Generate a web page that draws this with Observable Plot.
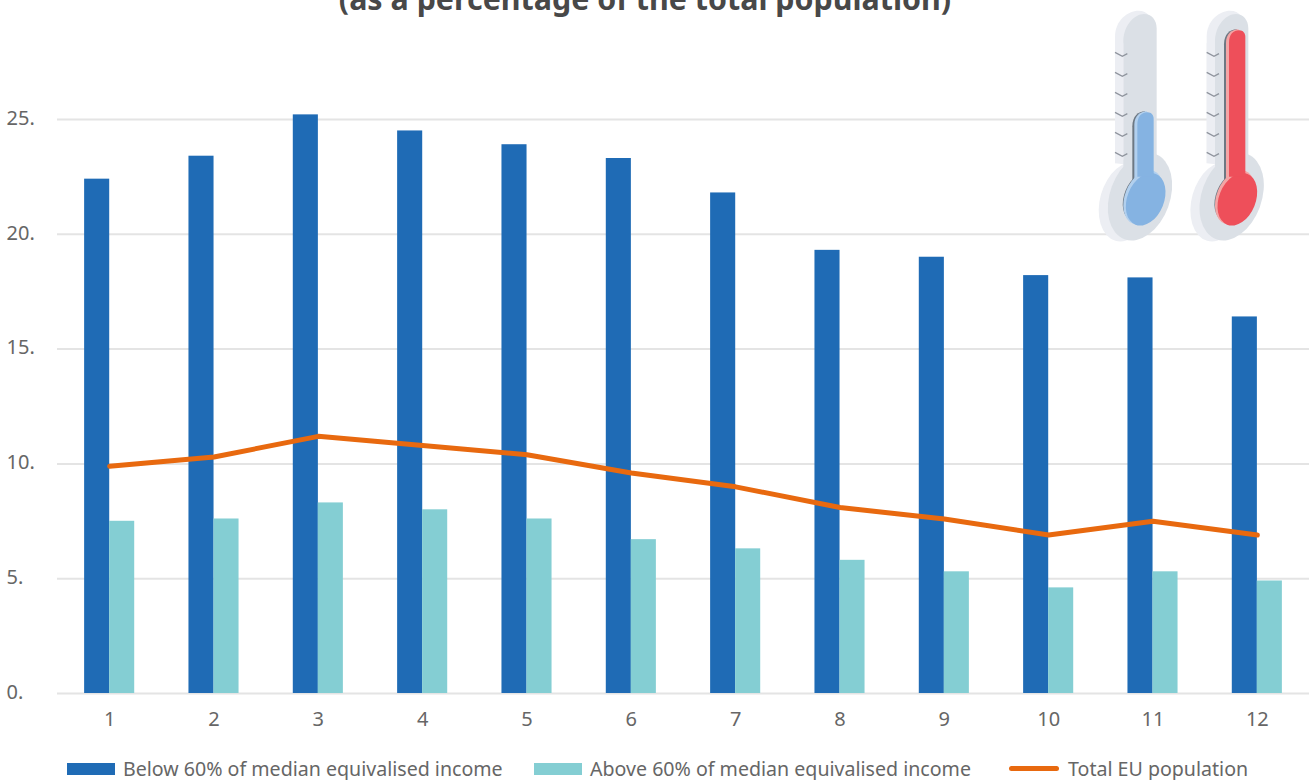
<!DOCTYPE html>
<html>
<head>
<meta charset="utf-8">
<script src="https://cdn.jsdelivr.net/npm/d3@7"></script>
<script src="https://cdn.jsdelivr.net/npm/@observablehq/plot@0.6"></script>
<style>
html,body{margin:0;padding:0;background:#fff;}
body{width:1315px;height:780px;overflow:hidden;position:relative;font-family:"Noto Sans",sans-serif;color:#666;}
#title{height:20px;overflow:hidden;position:relative;}
#title span{position:absolute;left:0;width:1290px;text-align:center;top:-21px;font-size:30.4px;line-height:40px;font-weight:700;color:#484848;white-space:nowrap;}
#chart svg{display:block;}
#legend{position:relative;height:40px;font-size:19.6px;}
#legend .t{position:absolute;top:16px;line-height:26px;white-space:nowrap;}
#legend .s{position:absolute;}
#thermo{position:absolute;left:1080px;top:0;width:235px;height:250px;}
</style>
</head>
<body>
<div id="title"><span>(as a percentage of the total population)</span></div>
<div id="chart"></div>
<div id="legend"></div>
<svg id="thermo" viewBox="0 0 705 750"></svg>
<script>
const groups = [1, 2, 3, 4, 5, 6, 7, 8, 9, 10, 11, 12];
const below = [22.4, 23.4, 25.2, 24.5, 23.9, 23.3, 21.8, 19.3, 19.0, 18.2, 18.1, 16.4];
const above = [7.5, 7.6, 8.3, 8.0, 7.6, 6.7, 6.3, 5.8, 5.3, 4.6, 5.3, 4.9];
const total = [9.9, 10.3, 11.2, 10.8, 10.4, 9.6, 9.0, 8.1, 7.6, 6.9, 7.5, 6.9];
const yTicks = [0, 5, 10, 15, 20, 25];
const names = ["Below 60% of median equivalised income", "Above 60% of median equivalised income", "Total EU population"];
const colors = ["#1f6bb5", "#84ced3", "#e8690f"];

const rows = groups.map((g, i) => ({g, below: below[i], above: above[i], total: total[i]}));

const plot = Plot.plot({
  width: 1315,
  height: 720,
  marginLeft: 57,
  marginRight: 6,
  marginTop: 0,
  marginBottom: 47,
  style: {background: "transparent", fontFamily: '"Noto Sans",sans-serif', color: "#666"},
  x: {domain: groups, paddingInner: 0.52, paddingOuter: 0.26, round: false, label: null},
  y: {domain: [0, 29.31], label: null},
  marks: [
    Plot.ruleY(yTicks, {stroke: "#e4e4e4", strokeWidth: 2}),
    Plot.barY(rows, {x: "g", y: "below", fill: colors[0], insetRight: 25}),
    Plot.barY(rows, {x: "g", y: "above", fill: colors[1], insetLeft: 25}),
    Plot.lineY(rows, {x: "g", y: "total", stroke: colors[2], strokeWidth: 5, curve: "linear"}),
    Plot.axisX({tickSize: 0, tickPadding: 18, fontSize: 20, fill: "#666", label: null}),
    Plot.axisY({ticks: yTicks, tickSize: 0, tickFormat: d => d + ".", textAnchor: "start", dx: -42, dy: -1, fontSize: 20, fill: "#666", label: null})
  ]
});
document.getElementById("chart").append(plot);

const legend = document.getElementById("legend");
[[123, 67, 0], [590, 534, 1], [1068, 1009, 2]].forEach(([tx, sx, i]) => {
  const s = document.createElement("div");
  s.className = "s";
  const line = i === 2;
  s.style.cssText = `left:${sx}px;top:${line ? 26 : 23}px;width:${line ? 50 : 48}px;height:${line ? 5 : 12}px;background:${colors[i]};border-radius:${line ? 3 : 0}px`;
  legend.append(s);
  const t = document.createElement("div");
  t.className = "t";
  t.style.left = tx + "px";
  t.textContent = names[i];
  legend.append(t);
});

function thermo(dx, top, light, main, dark) {
  let ticks = "";
  for (let k = 0; k < 6; k++) {
    const y = 157 + k * 60;
    ticks += `<polyline points="105,${y} 127,${y + 12} 142,${y + 4}" fill="none" stroke="#8f949d" stroke-width="4"/>`;
  }
  return `<g transform="translate(${dx},0)">
    <path d="M105 490V110C105 60 145 32 175 32C190 32 200 38 206 46L200 500Z" fill="#eceef3"/>
    <ellipse cx="140" cy="605" rx="80" ry="122" transform="rotate(16 140 605)" fill="#eceef3"/>
    <ellipse cx="180" cy="590" rx="90" ry="136" transform="rotate(20 180 590)" fill="#dbe0e6"/>
    <path d="M130 520V125C130 75 165 42 192 42C215 42 230 60 230 85V500H130Z" fill="#dbe0e6"/>
    <path d="M105 490V130H130V480Z" fill="#eceef3"/>
    ${ticks}
    <ellipse cx="183" cy="590" rx="50" ry="78" transform="rotate(22 183 590)" fill="${dark}"/>
    <path d="M157 560V${top + 45}C157 ${top + 15} 175 ${top} 195 ${top}L205 ${top + 30}V560Z" fill="${dark}"/>
    <ellipse cx="190" cy="592" rx="55" ry="85" transform="rotate(22 190 592)" fill="${light}"/>
    <path d="M163 560V${top + 40}C163 ${top + 15} 180 ${top} 200 ${top}L215 ${top + 30}V560Z" fill="${light}"/>
    <ellipse cx="197" cy="598" rx="55" ry="82" transform="rotate(22 197 598)" fill="${main}"/>
    <path d="M172 560V${top + 40}C172 ${top + 15} 185 ${top + 3} 203 ${top + 3}C214 ${top + 3} 221 ${top + 12} 221 ${top + 22}V530H172Z" fill="${main}"/>
  </g>`;
}
document.getElementById("thermo").innerHTML =
  thermo(0, 334, "#b2d0ee", "#85b3e2", "#6d7883") + thermo(275, 88, "#f4a5a5", "#ee4f5a", "#6d7883");
</script>
</body>
</html>
